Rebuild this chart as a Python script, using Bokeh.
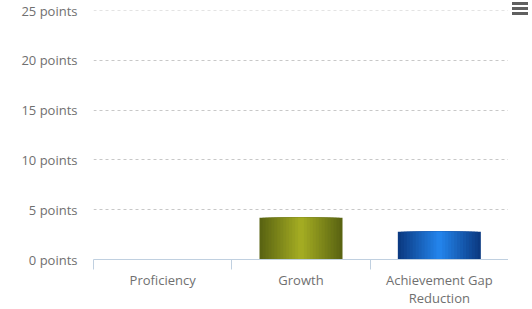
from bokeh.plotting import figure
from bokeh.models import FixedTicker, PrintfTickFormatter, Range1d, Div
from bokeh.layouts import row
from bokeh.embed import file_html
from bokeh.resources import INLINE

categories = ["Proficiency", "Growth", "Achievement Gap\nReduction"]
values = [0, 4.2, 2.8]
edge_colors = ["#5a6412", "#5a6412", "#0b3a82"]
center_colors = ["#a3ab22", "#a3ab22", "#2383ea"]
y_ticks = [0, 5, 10, 15, 20, 25]

FONT = "Open Sans"
TXT = "#707070"
FS = "13px"

p = figure(width=508, height=309, output_backend="svg", toolbar_location=None,
           x_range=Range1d(0, len(categories)), y_range=Range1d(0, 25.02),
           min_border_left=93, min_border_right=0, min_border_top=10, min_border_bottom=49)
p.outline_line_color = None
p.background_fill_color = "white"
p.border_fill_color = "white"

xs = [i + 0.5 for i in range(len(categories))]


def mix(c1, c2, t):
    a = [int(c1[i:i + 2], 16) for i in (1, 3, 5)]
    b = [int(c2[i:i + 2], 16) for i in (1, 3, 5)]
    return "#%02x%02x%02x" % tuple(int(round(a[j] + (b[j] - a[j]) * t)) for j in range(3))


N = 14
bar_w = 0.6
for k in range(N):
    t = k / (N - 1)
    w = bar_w * (1 - k / N)
    cols = [mix(e, c, t) for e, c in zip(edge_colors, center_colors)]
    p.vbar(x=xs, top=values, bottom=0, width=w, fill_color=cols, line_color=None)

# x axis
p.xaxis.ticker = FixedTicker(ticks=xs, minor_ticks=list(range(len(categories) + 1)))
p.xaxis.major_label_overrides = {x: c for x, c in zip(xs, categories)}
p.xaxis.major_tick_out = 0
p.xaxis.major_tick_in = 0
p.xaxis.minor_tick_out = 10
p.xaxis.minor_tick_in = 0
p.xaxis.minor_tick_line_color = "#c0d0e0"
p.xaxis.axis_line_color = "#c0d0e0"
p.xaxis.major_label_standoff = 1
p.xaxis.major_label_text_font = FONT
p.xaxis.major_label_text_font_size = FS
p.xaxis.major_label_text_color = TXT
p.xaxis.major_label_text_line_height = 1.0

# y axis
p.yaxis.ticker = FixedTicker(ticks=y_ticks, minor_ticks=[])
p.yaxis.formatter = PrintfTickFormatter(format="%d points")
p.yaxis.axis_line_color = None
p.yaxis.major_tick_line_color = None
p.yaxis.major_tick_out = 0
p.yaxis.major_tick_in = 0
p.yaxis.major_label_standoff = 16
p.yaxis.major_label_text_font = FONT
p.yaxis.major_label_text_font_size = FS
p.yaxis.major_label_text_color = TXT

p.xgrid.grid_line_color = None
p.ygrid.ticker = FixedTicker(ticks=y_ticks)
p.ygrid.grid_line_color = "#c8c8c8"
p.ygrid.grid_line_dash = "3 3"

# export-menu icon (three grey bars)
bar_html = '<div style="width:16px;height:3px;background:#606060;margin:0 0 2px 0;"></div>'
menu = Div(text='<div style="margin-top:-7px;margin-left:-1px;">' + bar_html * 3 + '</div>',
           width=24, height=20)

layout = row(p, menu)
open("out.html", "w").write(file_html(layout, INLINE))
